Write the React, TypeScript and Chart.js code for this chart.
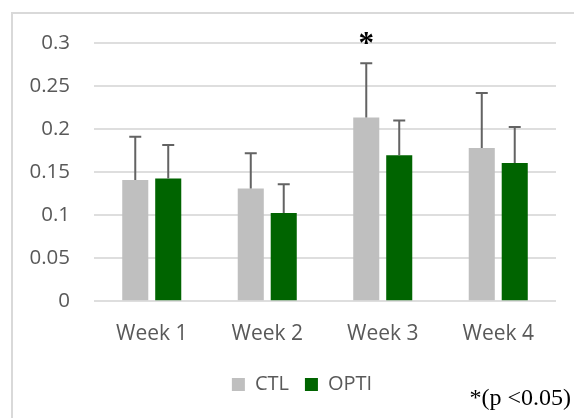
import React, { useEffect, useRef } from "react";
import { Chart, registerables } from "chart.js";

Chart.register(...registerables);

const categories = ["Week 1", "Week 2", "Week 3", "Week 4"];
const ctlValues = [0.141, 0.131, 0.2135, 0.178];
const optiValues = [0.1425, 0.1025, 0.1695, 0.1605];
const ctlErrors = [0.050, 0.041, 0.063, 0.064];
const optiErrors = [0.039, 0.0335, 0.0405, 0.042];
const significance = ["", "", "*", ""];
const yTickLabels = ["0", "0.05", "0.1", "0.15", "0.2", "0.25", "0.3"];
const footnote = "*(p <0.05)";

const FONT = "'Open Sans', 'Noto Sans', sans-serif";
const SERIF = "'Liberation Serif', 'DejaVu Serif', serif";

const legendShiftPlugin = {
  id: "legendShift",
  afterLayout(chart: any) {
    const lg = chart.legend;
    if (lg) {
      lg.left += 9;
      lg.right += 9;
    }
  },
};

const errorBarPlugin = {
  id: "errorBars",
  afterDatasetsDraw(chart: any) {
    const ctx = chart.ctx;
    const yScale = chart.scales.y;
    const errs = [ctlErrors, optiErrors];
    ctx.save();
    ctx.strokeStyle = "#636363";
    ctx.lineWidth = 2;
    chart.data.datasets.forEach((ds: any, i: number) => {
      const meta = chart.getDatasetMeta(i);
      meta.data.forEach((el: any, j: number) => {
        const v = ds.data[j] + errs[i][j];
        const yTop = yScale.getPixelForValue(v);
        ctx.beginPath();
        ctx.moveTo(el.x, el.y);
        ctx.lineTo(el.x, yTop);
        ctx.moveTo(el.x - 6, yTop);
        ctx.lineTo(el.x + 6, yTop);
        ctx.stroke();
      });
    });
    const meta0 = chart.getDatasetMeta(0);
    ctx.fillStyle = "#000000";
    ctx.font = `bold 31px ${SERIF}`;
    ctx.textAlign = "center";
    ctx.textBaseline = "alphabetic";
    significance.forEach((s, j) => {
      if (!s) return;
      const el = meta0.data[j];
      const yTop = yScale.getPixelForValue(ctlValues[j] + ctlErrors[j]);
      const m = ctx.measureText(s);
      const cy = yTop - 25.5;
      const base = cy + (m.actualBoundingBoxAscent - m.actualBoundingBoxDescent) / 2;
      ctx.fillText(s, el.x, base);
    });
    ctx.restore();
  },
  afterDraw(chart: any) {
    const ctx = chart.ctx;
    ctx.save();
    ctx.fillStyle = "#000000";
    ctx.font = `24px ${SERIF}`;
    ctx.textAlign = "right";
    ctx.textBaseline = "alphabetic";
    ctx.fillText(footnote, 571, 404.5);
    ctx.restore();
  },
};

export default function App() {
  const ref = useRef<HTMLCanvasElement | null>(null);
  useEffect(() => {
    if (!ref.current) return;
    const chart = new Chart(ref.current, {
      type: "bar",
      data: {
        labels: categories,
        datasets: [
          {
            label: "CTL",
            data: ctlValues,
            backgroundColor: "#bfbfbf",
            categoryPercentage: 0.571,
            barPercentage: 0.79,
          },
          {
            label: "OPTI",
            data: optiValues,
            backgroundColor: "#006400",
            categoryPercentage: 0.571,
            barPercentage: 0.79,
          },
        ],
      },
      options: {
        responsive: false,
        animation: false,
        layout: { padding: { top: 43, left: 30, right: 18, bottom: 13.5 } },
        plugins: {
          legend: {
            position: "bottom",
            labels: {
              boxWidth: 13,
              boxHeight: 13,
              padding: 16,
              color: "#595959",
              font: { family: FONT, size: 20 },
            },
          },
          tooltip: { enabled: false },
        },
        scales: {
          x: {
            grid: { display: false, drawTicks: false },
            border: { display: false },
            ticks: {
              color: "#595959",
              font: { family: FONT, size: 21 },
              padding: 20,
            },
            afterFit: (scale: any) => {
              scale.height -= 8;
            },
          },
          y: {
            min: 0,
            max: 0.3,
            grid: { color: "#dedede", lineWidth: 2, drawTicks: false },
            border: { display: false },
            ticks: {
              stepSize: 0.05,
              color: "#595959",
              font: { family: FONT, size: 20.5 },
              padding: 24,
              callback: (_v: any, i: number) => yTickLabels[i],
            },
            afterFit: (scale: any) => {
              scale.width = 64;
            },
          },
        },
      },
      plugins: [legendShiftPlugin, errorBarPlugin],
    });
    return () => chart.destroy();
  }, []);

  return (
    <div style={{ position: "fixed", left: 0, top: 0, width: 574, height: 418, background: "#fff", overflow: "hidden" }}>
      <div
        style={{
          position: "absolute",
          left: 11,
          top: 12,
          width: 700,
          height: 600,
          border: "2px solid #d9d9d9",
        }}
      />
      <canvas ref={ref} width={574} height={418} style={{ position: "absolute", left: 0, top: 0 }} />
    </div>
  );
}
